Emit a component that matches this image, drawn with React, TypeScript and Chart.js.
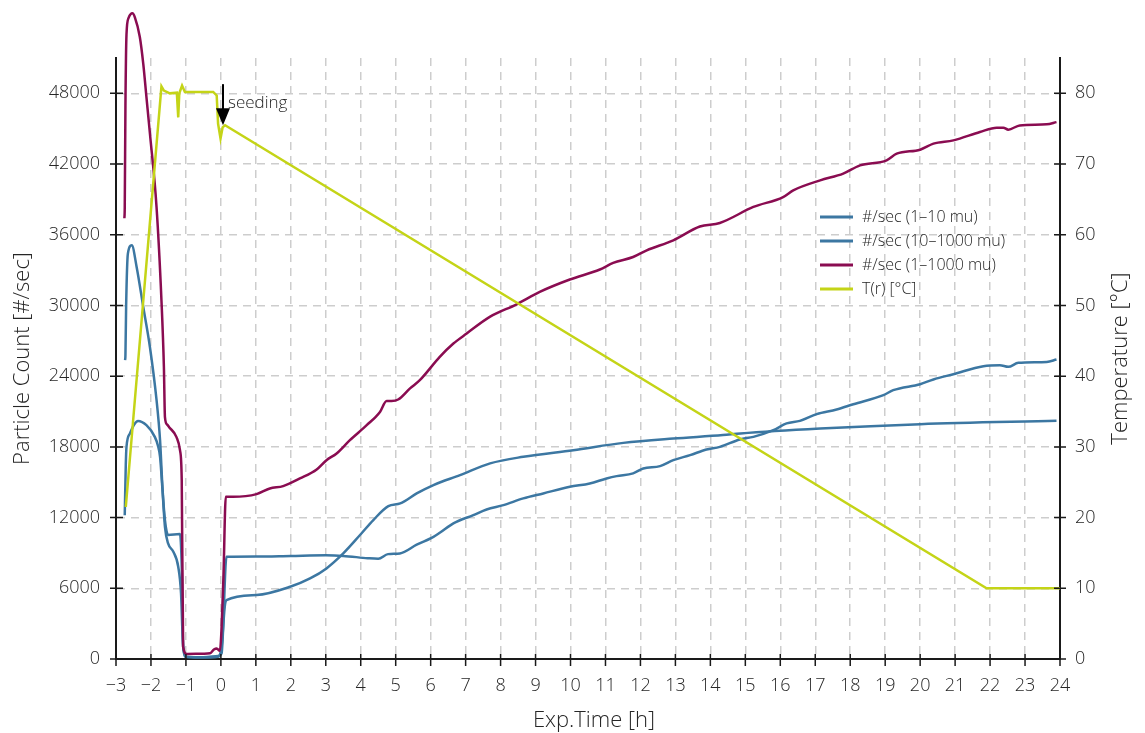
import React, { useEffect, useRef } from 'react';
import { Chart, registerables } from 'chart.js';

Chart.register(...registerables);

const FONT = '"Open Sans", "Segoe UI", "DejaVu Sans", sans-serif';
const TEXT = '#262626';
const BLUE = '#3c77a2';
const PURPLE = '#8a0c51';
const YELLOW = '#c4d417';

// ---- tick labels ----
const hourTicks = [-3, -2, -1, 0, 1, 2, 3, 4, 5, 6, 7, 8, 9, 10, 11, 12, 13, 14, 15, 16, 17, 18, 19, 20, 21, 22, 23, 24];
const countTicks = [0, 6000, 12000, 18000, 24000, 30000, 36000, 42000, 48000];
const tempTicks = [0, 10, 20, 30, 40, 50, 60, 70, 80];

const xTitle = 'Exp.Time [h]';
const yTitle = 'Particle Count [#/sec]';
const y1Title = 'Temperature [°C]';
const seriesLabels = ['#/sec (1–10 mu)', '#/sec (10–1000 mu)', '#/sec (1–1000 mu)', 'T(r) [°C]'];

// ---- series: #/sec (1–10 mu) ----
const hoursSmall = [-2.75, -2.72, -2.7, -2.6, -2.48, -2.37, -2.13, -1.89, -1.8, -1.74, -1.67, -1.6, -1.51, -1.36, -1.22, -1.14, -1.09, -1.03, -0.6, -0.08, 0.02, 0.11, 0.16, 1.02, 1.98, 2.55, 3.02, 3.5, 3.98, 4.36, 4.79, 5.13, 5.6, 6.08, 6.84, 7.7, 8.65, 10.08, 11.51, 12.94, 14.36, 14.86, 17.14, 20.0, 23.9];
const countsSmall = [12200, 16500, 18000, 19140, 19900, 20200, 19840, 18850, 18100, 17150, 14330, 11220, 9810, 9100, 7830, 5570, 1610, 200, 120, 200, 1040, 4430, 5000, 5430, 6130, 6840, 7690, 8960, 10520, 11790, 12970, 13200, 14050, 14760, 15600, 16600, 17160, 17720, 18340, 18710, 19000, 19140, 19560, 19930, 20210];

// ---- series: #/sec (10–1000 mu) ----
const hoursLarge = [-2.74, -2.73, -2.71, -2.66, -2.55, -2.41, -2.22, -2.03, -1.84, -1.74, -1.67, -1.6, -1.51, -1.17, -1.12, -1.08, -0.98, -0.5, -0.08, 0.02, 0.16, 1.0, 2.0, 3.0, 3.5, 4.2, 4.5, 4.78, 5.12, 5.6, 6.08, 6.26, 6.65, 7.22, 7.6, 8.08, 8.65, 9.22, 9.98, 10.55, 11.03, 11.32, 11.79, 12.08, 12.56, 12.94, 13.42, 13.89, 14.27, 14.84, 15.23, 15.8, 16.18, 16.56, 17.04, 17.61, 18.09, 18.95, 19.23, 20.0, 20.38, 20.95, 21.81, 22.28, 22.52, 22.81, 23.62, 23.9];
const countsLarge = [25360, 25800, 30000, 34400, 35110, 33270, 29870, 26480, 21960, 18570, 14500, 11790, 10520, 10600, 7830, 1040, 200, 150, 250, 480, 8680, 8700, 8750, 8800, 8750, 8550, 8500, 8900, 8960, 9700, 10370, 10710, 11510, 12210, 12690, 13060, 13630, 14050, 14610, 14900, 15320, 15520, 15750, 16170, 16370, 16870, 17300, 17780, 18000, 18630, 18850, 19420, 19990, 20210, 20780, 21170, 21620, 22390, 22810, 23320, 23720, 24170, 24850, 24930, 24790, 25130, 25210, 25410];

// ---- series: #/sec (1–1000 mu) ----
const hoursTotal = [-2.76, -2.75, -2.73, -2.7, -2.64, -2.53, -2.46, -2.32, -2.22, -2.13, -2.03, -1.84, -1.7, -1.63, -1.6, -1.54, -1.48, -1.27, -1.17, -1.12, -1.08, -0.98, -0.5, -0.31, -0.2, -0.12, -0.03, 0.07, 0.14, 0.35, 1.02, 1.4, 1.78, 2.26, 2.74, 3.02, 3.31, 3.69, 4.17, 4.55, 4.74, 4.88, 5.07, 5.41, 5.69, 6.26, 6.65, 7.03, 7.69, 8.46, 9.12, 9.98, 10.84, 11.22, 11.79, 12.18, 12.94, 13.7, 14.27, 15.23, 16.08, 16.37, 17.14, 17.8, 18.28, 19.04, 19.33, 20.0, 20.38, 20.95, 21.71, 22.19, 22.38, 22.52, 22.85, 23.62, 23.9];
const countsTotal = [37400, 38300, 47000, 53000, 54400, 54800, 54450, 52800, 50500, 47700, 44600, 38330, 30440, 24760, 20520, 19900, 19670, 18830, 17720, 15180, 1040, 424, 450, 480, 800, 900, 700, 6700, 13760, 13760, 13990, 14470, 14670, 15320, 16080, 16870, 17440, 18570, 19840, 20970, 21900, 21900, 22020, 22960, 23660, 25640, 26770, 27620, 29030, 30100, 31150, 32200, 33050, 33610, 34110, 34680, 35530, 36700, 37000, 38360, 39200, 39770, 40620, 41190, 41890, 42320, 42880, 43220, 43730, 44010, 44720, 45090, 45090, 44920, 45280, 45370, 45560];

// ---- series: T(r) [°C] ----
const hoursTemp = [-2.72, -1.7, -1.63, -1.46, -1.26, -1.22, -1.19, -1.11, -1.03, -0.6, -0.22, -0.12, -0.08, -0.01, 0.05, 0.12, 21.9, 24.0];
const temps = [21.5, 81.0, 80.4, 80.0, 80.1, 76.6, 80.0, 81.1, 80.2, 80.2, 80.2, 79.7, 75.7, 73.6, 75.2, 75.5, 10.0, 10.0];

// ---- annotation ----
const seedingLabel = 'seeding';
const seedingHour = 0.06;
const seedingTopTemp = 81.3;
const seedingTipTemp = 75.5;

const pts = (xs: number[], ys: number[]) => xs.map((x, i) => ({ x, y: ys[i] }));

const decor = {
  id: 'decor',
  afterDraw(chart: any) {
    const { ctx, chartArea: ca, scales } = chart;
    const sx = scales.x, sy = scales.y, st = scales.y1;
    ctx.save();
    // tick marks crossing the axes
    ctx.strokeStyle = '#1a1a1a';
    ctx.lineWidth = 1.5;
    ctx.setLineDash([]);
    ctx.beginPath();
    hourTicks.forEach((v) => {
      const p = sx.getPixelForValue(v);
      ctx.moveTo(p, ca.bottom - 5);
      ctx.lineTo(p, ca.bottom + 7);
    });
    countTicks.forEach((v) => {
      const p = sy.getPixelForValue(v);
      ctx.moveTo(ca.left - 6, p);
      ctx.lineTo(ca.left + 7, p);
    });
    tempTicks.forEach((v) => {
      const p = st.getPixelForValue(v);
      ctx.moveTo(ca.right - 6, p);
      ctx.lineTo(ca.right + 6, p);
    });
    ctx.stroke();

    // axis titles
    ctx.fillStyle = TEXT;
    ctx.font = `300 22px ${FONT}`;
    ctx.textAlign = 'center';
    ctx.textBaseline = 'alphabetic';
    ctx.fillText(xTitle, (ca.left + ca.right) / 2 + 6, 727);
    const cy = (ca.top + ca.bottom) / 2;
    ctx.save();
    ctx.translate(29, cy);
    ctx.rotate(-Math.PI / 2);
    ctx.fillText(yTitle, 0, 0);
    ctx.restore();
    ctx.save();
    ctx.translate(1127, cy);
    ctx.rotate(-Math.PI / 2);
    ctx.fillText(y1Title, 0, 0);
    ctx.restore();

    // seeding arrow
    const ax = sx.getPixelForValue(seedingHour);
    const tipY = st.getPixelForValue(seedingTipTemp);
    const topY = st.getPixelForValue(seedingTopTemp);
    ctx.strokeStyle = '#000';
    ctx.lineWidth = 2;
    ctx.beginPath();
    ctx.moveTo(ax, topY);
    ctx.lineTo(ax, tipY - 14);
    ctx.stroke();
    ctx.fillStyle = '#000';
    ctx.beginPath();
    ctx.moveTo(ax - 7, tipY - 17);
    ctx.lineTo(ax + 7, tipY - 17);
    ctx.lineTo(ax, tipY);
    ctx.closePath();
    ctx.fill();
    ctx.fillStyle = TEXT;
    ctx.font = `300 17px ${FONT}`;
    ctx.textAlign = 'left';
    ctx.textBaseline = 'alphabetic';
    ctx.fillText(seedingLabel, ax + 5, tipY - 17);

    // legend
    const colors = [BLUE, BLUE, PURPLE, YELLOW];
    ctx.font = `300 16px ${FONT}`;
    ctx.textBaseline = 'middle';
    seriesLabels.forEach((lab, i) => {
      const yy = 217 + i * 24;
      ctx.strokeStyle = colors[i];
      ctx.lineWidth = 3;
      ctx.beginPath();
      ctx.moveTo(820, yy);
      ctx.lineTo(853, yy);
      ctx.stroke();
      ctx.fillStyle = '#1e1e1e';
      ctx.fillText(lab, 862, yy);
    });
    ctx.restore();
  },
};

export default function App() {
  const ref = useRef<HTMLCanvasElement | null>(null);
  useEffect(() => {
    if (!ref.current) return;
    const tickFont = { family: FONT, size: 18, weight: '300' as any };
    const chart = new Chart(ref.current, {
      type: 'line',
      data: {
        datasets: [
          { label: seriesLabels[0], data: pts(hoursSmall, countsSmall), borderColor: BLUE, yAxisID: 'y', order: 3 },
          { label: seriesLabels[1], data: pts(hoursLarge, countsLarge), borderColor: BLUE, yAxisID: 'y', order: 2 },
          { label: seriesLabels[2], data: pts(hoursTotal, countsTotal), borderColor: PURPLE, yAxisID: 'y', order: 1, clip: false as any },
          { label: seriesLabels[3], data: pts(hoursTemp, temps), borderColor: YELLOW, yAxisID: 'y1', order: 0, tension: 0, cubicInterpolationMode: 'default' },
        ] as any,
      },
      options: {
        animation: false,
        responsive: false,
        maintainAspectRatio: false,
        layout: { padding: { top: 58, left: 0, right: 0, bottom: 0 } },
        elements: {
          point: { radius: 0 },
          line: { borderWidth: 2.5, tension: 0, cubicInterpolationMode: 'monotone', fill: false },
        },
        plugins: { legend: { display: false }, tooltip: { enabled: false } },
        scales: {
          x: {
            type: 'linear',
            min: -3,
            max: 24,
            afterBuildTicks: (s: any) => { s.ticks = hourTicks.map((v) => ({ value: v })); },
            afterFit: (s: any) => { s.height = 74; },
            ticks: {
              font: tickFont,
              color: TEXT,
              padding: 16,
              maxRotation: 0,
              autoSkip: false,
              callback: (v: any) => (Number(v) < 0 ? '−' + Math.abs(Number(v)) : String(v)),
            },
            grid: { color: '#cdcdcd', lineWidth: 1.5, drawTicks: false },
            border: { display: true, color: '#1a1a1a', width: 2, dash: [8, 6] },
          },
          y: {
            type: 'linear',
            position: 'left',
            min: 0,
            max: 51000,
            afterBuildTicks: (s: any) => { s.ticks = countTicks.map((v) => ({ value: v })); },
            afterFit: (s: any) => { s.width = 116; },
            ticks: { font: tickFont, color: TEXT, padding: 16, autoSkip: false, callback: (v: any) => String(v) },
            grid: { color: '#cdcdcd', lineWidth: 1.5, drawTicks: false },
            border: { display: true, color: '#1a1a1a', width: 2, dash: [8, 6] },
          },
          y1: {
            type: 'linear',
            position: 'right',
            min: 0,
            max: 85,
            afterBuildTicks: (s: any) => { s.ticks = tempTicks.map((v) => ({ value: v })); },
            afterFit: (s: any) => { s.width = 85; },
            ticks: { font: tickFont, color: TEXT, padding: 15, autoSkip: false, callback: (v: any) => String(v) },
            grid: { drawOnChartArea: false, drawTicks: false },
            border: { display: true, color: '#1a1a1a', width: 2 },
          },
        },
      } as any,
      plugins: [decor],
    });
    return () => chart.destroy();
  }, []);
  return (
    <div style={{ position: 'absolute', left: 0, top: 0, width: 1145, height: 733, background: '#fff' }}>
      <canvas ref={ref} width={1145} height={733} style={{ display: 'block' }} />
    </div>
  );
}
